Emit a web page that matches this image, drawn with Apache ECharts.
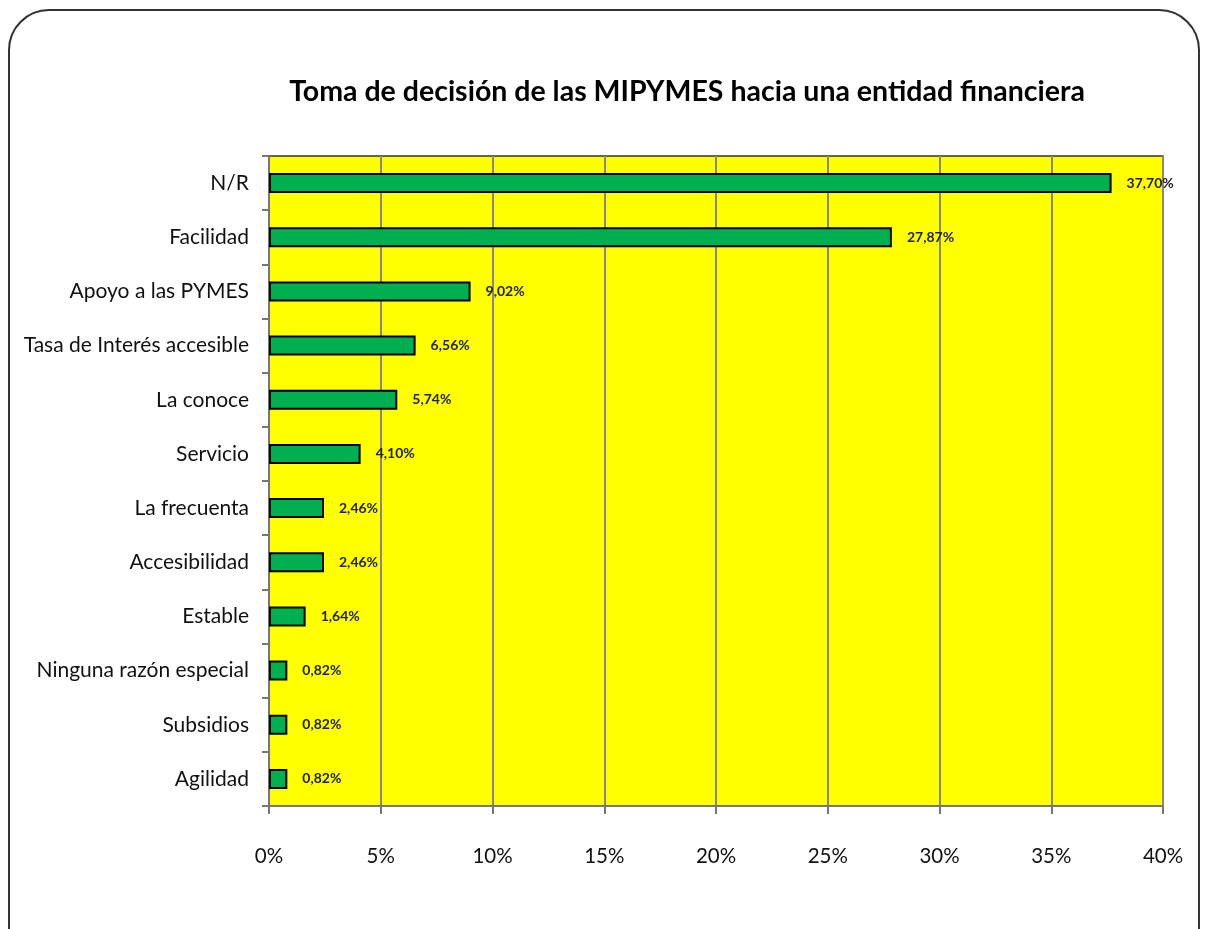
<!DOCTYPE html>
<html>
<head>
<meta charset="utf-8">
<script src="https://cdn.jsdelivr.net/npm/echarts@6/dist/echarts.min.js"></script>
<style>
html,body{margin:0;padding:0;background:#fff;}
#main{width:1206px;height:929px;}
</style>
</head>
<body>
<div id="main"></div>
<script>
// categories from top to bottom, as in the picture
const categories = ['N/R', 'Facilidad', 'Apoyo a las PYMES', 'Tasa de Interés accesible', 'La conoce',
    'Servicio', 'La frecuenta', 'Accesibilidad', 'Estable', 'Ninguna razón especial', 'Subsidios', 'Agilidad'];
const values = [37.70, 27.87, 9.02, 6.56, 5.74, 4.10, 2.46, 2.46, 1.64, 0.82, 0.82, 0.82];
const xTicks = [0, 5, 10, 15, 20, 25, 30, 35, 40];

let myChart = echarts.init(document.getElementById('main'));
let fontName = 'Lato, "Open Sans", sans-serif';

let option = {
    animation: false,
    backgroundColor: '#fff',
    title: {
        text: 'Toma de decisión de las MIPYMES hacia una entidad financiera',
        left: 682,
        top: 72,
        textAlign: 'center',
        textStyle: { fontFamily: fontName, fontSize: 28.5, fontWeight: 'bold', color: '#000' }
    },
    graphic: [{
        type: 'rect',
        shape: { x: 9, y: 10, width: 1190, height: 960, r: 40 },
        style: { fill: 'none', stroke: '#333', lineWidth: 2 },
        z: 100
    }],
    grid: { left: 269, right: 43, top: 156, bottom: 123, containLabel: false,
        show: true, backgroundColor: '#ffff00', borderColor: '#333', borderWidth: 1.5 },
    xAxis: {
        type: 'value',
        min: xTicks[0],
        max: xTicks[xTicks.length - 1],
        interval: 5,
        axisLine: { show: true, lineStyle: { color: '#777', width: 2 } },
        axisTick: { show: true, length: 8, lineStyle: { color: '#777', width: 2 } },
        splitLine: { show: true, lineStyle: { color: '#888', width: 2 } },
        axisLabel: { formatter: '{value}%', margin: 40, fontFamily: fontName, fontSize: 20.5, color: '#111' }
    },
    yAxis: {
        type: 'category',
        inverse: true,
        data: categories,
        axisLine: { show: true, lineStyle: { color: '#777', width: 2 } },
        axisTick: { show: true, length: 7, lineStyle: { color: '#777', width: 2 } },
        axisLabel: { margin: 20, fontFamily: fontName, fontSize: 21, color: '#111' }
    },
    series: [{
        type: 'bar',
        data: values,
        barWidth: 20,
        itemStyle: { color: '#00b050', borderColor: '#000', borderWidth: 2 },
        label: {
            show: true,
            position: 'right',
            distance: 15,
            fontFamily: fontName,
            fontSize: 14,
            fontWeight: 'bold',
            color: '#222',
            formatter: (p) => p.value.toFixed(2).replace('.', ',') + '%'
        }
    }]
};
myChart.setOption(option);
</script>
</body>
</html>
